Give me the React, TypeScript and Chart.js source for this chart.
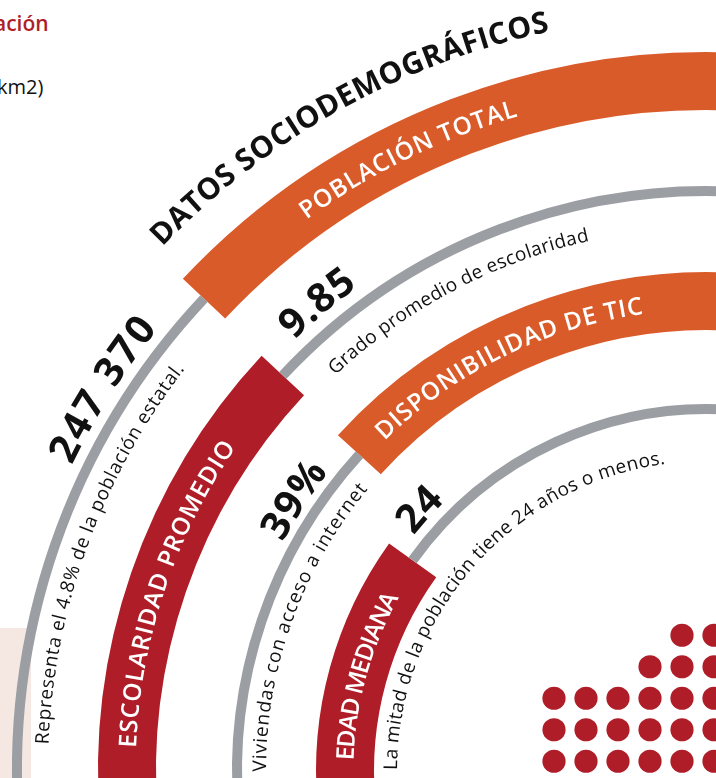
import React, { useEffect, useRef } from "react";
import { Chart, registerables } from "chart.js";

Chart.register(...registerables);

// ---------- data ----------
const headline = "DATOS SOCIODEMOGRÁFICOS";
const ringTitles = ["POBLACIÓN TOTAL", "ESCOLARIDAD PROMEDIO", "DISPONIBILIDAD DE TIC", "EDAD MEDIANA"];
const ringValues = ["247 370", "9.85", "39%", "24"];
const ringNotes = [
  "Representa el 4.8% de la población estatal.",
  "Grado promedio de escolaridad",
  "Viviendas con acceso a internet",
  "La mitad de la población tiene 24 años o menos.",
];
// angular size (degrees) of each ring's lower-left segment, upper-right segment and hidden remainder
const lowerSegDeg = [48.2, 48.0, 47.3, 40.6];
const upperSegDeg = [51.8, 52.0, 52.7, 59.4];
const hiddenSegDeg = [260, 260, 260, 260];
// which segment is the coloured band (the other one is the grey line)
const bandIsUpper = [true, false, true, false];
// decorative dot block: dots per row, bottom row first, right aligned
const dotRowCounts = [6, 6, 6, 3, 2];
const cornerTexts = ["ación", "km2)"];

// ---------- styles / layout ----------
const ORANGE = "#da5b2a";
const RED = "#af1e28";
const GRAY = "#9b9ea3";
const PINK = "#f5e7e2";
const T = "rgba(0,0,0,0)";
const INK = "#111111";
const FONT = "'Open Sans', 'Noto Sans', sans-serif";
const bandColors = [ORANGE, RED, ORANGE, RED];

const CANVAS = 1598;
const PAD = 80;
const CX = 707;
const CY = 771;
const BAND_W = 58;
const LINE_W = 10;
const GAPS = [52, 52, 50];
const CUTOUT = 333;

// text placement (canvas degrees, clockwise from +x)
const titleSpan = [[234, 253.9], [182.3, 214.5], [225.7, 262.1], [181.7, 209.4]];
const valueSpan: (number[])[] = [[205.7, 218.8], [226.2, 234.2], [213.3], [222.3]];
const valueOffset = [15, 17, 12, 14];
const noteSpan = [[182.3, 217.6], [226.8, 257.5], [179.9, 219.7], [180.2, 262.3]];
const noteOffset = [-31, -37, -29, -52];
const headlineSpan = [223.9, 258.0];
const headlineOffset = 66;

function arcText(
  ctx: CanvasRenderingContext2D,
  text: string,
  cx: number,
  cy: number,
  r: number,
  span: number[],
  font: string,
  color: string,
  spacing = 0
) {
  ctx.save();
  ctx.font = font;
  ctx.fillStyle = color;
  ctx.textAlign = "center";
  ctx.textBaseline = "alphabetic";
  const chars = Array.from(text);
  const widths = chars.map((c) => ctx.measureText(c).width);
  const natural = widths.reduce((a, b) => a + b, 0);
  let sp = spacing;
  let start: number;
  if (span.length > 1) {
    const target = ((span[1] - span[0]) * Math.PI) / 180 * r;
    sp = chars.length > 1 ? (target - natural) / (chars.length - 1) : 0;
    start = (span[0] * Math.PI) / 180;
  } else {
    const total = natural + sp * (chars.length - 1);
    start = (span[0] * Math.PI) / 180 - total / (2 * r);
  }
  let a = start;
  chars.forEach((c, i) => {
    const w = widths[i];
    const mid = a + w / 2 / r;
    ctx.save();
    ctx.translate(cx + r * Math.cos(mid), cy + r * Math.sin(mid));
    ctx.rotate(mid + Math.PI / 2);
    ctx.fillText(c, 0, 0);
    ctx.restore();
    a += (w + sp) / r;
  });
  ctx.restore();
}

export default function App() {
  const bandRef = useRef<HTMLCanvasElement>(null);
  const lineRef = useRef<HTMLCanvasElement>(null);
  const dotRef = useRef<HTMLCanvasElement>(null);

  useEffect(() => {
    const base: any = {
      responsive: false,
      animation: false,
      events: [],
      rotation: 265,
      circumference: 360,
      cutout: CUTOUT,
      layout: { padding: PAD, autoPadding: false },
      plugins: { legend: { display: false }, tooltip: { enabled: false } },
    };
    const arcOpts = { borderWidth: 0, hoverBorderWidth: 0, hoverOffset: 0, offset: 0, spacing: 0 };
    const segData = (i: number) => [lowerSegDeg[i], upperSegDeg[i], hiddenSegDeg[i]];
    const spacer = (w: number) => ({ data: [360], backgroundColor: [T], weight: w, ...arcOpts });

    // bands
    const bandSets: any[] = [];
    ringTitles.forEach((_, i) => {
      bandSets.push({
        label: ringTitles[i],
        data: segData(i),
        backgroundColor: bandIsUpper[i] ? [T, bandColors[i], T] : [bandColors[i], T, T],
        weight: BAND_W,
        ...arcOpts,
      });
      if (i < GAPS.length) bandSets.push(spacer(GAPS[i]));
    });

    // grey lines
    const pad = (BAND_W - LINE_W) / 2;
    const lineSets: any[] = [spacer(pad)];
    const lineIdx: number[] = [];
    ringTitles.forEach((_, i) => {
      lineIdx.push(lineSets.length);
      lineSets.push({
        label: ringNotes[i],
        data: segData(i),
        backgroundColor: bandIsUpper[i] ? [GRAY, T, T] : [T, GRAY, T],
        weight: LINE_W,
        ...arcOpts,
      });
      lineSets.push(spacer(i < GAPS.length ? pad * 2 + GAPS[i] : pad));
    });

    const textPlugin = {
      id: "arcTexts",
      afterDatasetsDraw(chart: any) {
        const ctx = chart.ctx as CanvasRenderingContext2D;
        const el = chart.getDatasetMeta(lineIdx[0]).data[0];
        const cx = el.x;
        const cy = el.y;
        const radii = lineIdx.map((k) => {
          const c: any = chart.getDatasetMeta(k).controller;
          return (c.outerRadius + c.innerRadius) / 2;
        });
        arcText(ctx, headline, cx, cy, radii[0] + headlineOffset, headlineSpan, `700 30px ${FONT}`, INK);
        radii.forEach((R, i) => {
          arcText(ctx, ringTitles[i], cx, cy, R - 8.5, titleSpan[i], `600 24.5px ${FONT}`, "#ffffff");
          arcText(ctx, ringValues[i], cx, cy, R + valueOffset[i], valueSpan[i], `700 40px ${FONT}`, INK, 1);
          arcText(ctx, ringNotes[i], cx, cy, R + noteOffset[i], noteSpan[i], `400 19px ${FONT}`, INK);
        });
      },
    };

    const bandChart = new Chart(bandRef.current!, {
      type: "doughnut",
      data: { labels: ["lower", "upper", "hidden"], datasets: bandSets },
      options: base,
    });
    const lineChart = new Chart(lineRef.current!, {
      type: "doughnut",
      data: { labels: ["lower", "upper", "hidden"], datasets: lineSets },
      options: base,
      plugins: [textPlugin],
    });

    const dotPoints = dotRowCounts.flatMap((count, row) =>
      Array.from({ length: count }, (_, k) => ({ x: 5 - k, y: row }))
    );
    const dotChart = new Chart(dotRef.current!, {
      type: "scatter",
      data: {
        datasets: [
          {
            data: dotPoints,
            pointRadius: 11.6,
            pointBackgroundColor: RED,
            pointBorderWidth: 0,
            borderWidth: 0,
          } as any,
        ],
      },
      options: {
        responsive: false,
        animation: false,
        events: [],
        layout: { padding: 0, autoPadding: false },
        plugins: { legend: { display: false }, tooltip: { enabled: false } },
        scales: {
          x: { type: "linear", min: -0.5, max: 6.5, display: false },
          y: { type: "linear", min: -0.5, max: 5.5, display: false },
        },
      } as any,
    });

    return () => {
      bandChart.destroy();
      lineChart.destroy();
      dotChart.destroy();
    };
  }, []);

  const canvasStyle: React.CSSProperties = {
    position: "absolute",
    left: CX - CANVAS / 2,
    top: CY - CANVAS / 2,
    width: CANVAS,
    height: CANVAS,
  };

  return (
    <div
      style={{
        position: "fixed",
        left: 0,
        top: 0,
        width: 716,
        height: 778,
        overflow: "hidden",
        background: "#ffffff",
      }}
    >
      <div style={{ position: "absolute", left: 0, top: 628, width: 31, height: 150, background: PINK }} />
      <div
        style={{
          position: "absolute",
          left: -6,
          top: 13,
          font: `600 21px ${FONT}`,
          lineHeight: "21px",
          color: RED,
          whiteSpace: "nowrap",
        }}
      >
        {cornerTexts[0]}
      </div>
      <div
        style={{
          position: "absolute",
          left: -3,
          top: 77,
          font: `400 20px ${FONT}`,
          lineHeight: "20px",
          color: INK,
          whiteSpace: "nowrap",
        }}
      >
        {cornerTexts[1]}
      </div>
      <canvas ref={bandRef} width={CANVAS} height={CANVAS} style={canvasStyle} />
      <canvas ref={lineRef} width={CANVAS} height={CANVAS} style={canvasStyle} />
      <canvas
        ref={dotRef}
        width={224}
        height={189}
        style={{ position: "absolute", left: 538, top: 588, width: 224, height: 189 }}
      />
    </div>
  );
}
